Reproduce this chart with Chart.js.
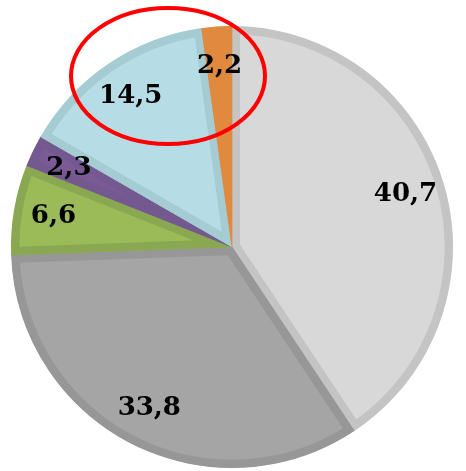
<!DOCTYPE html>
<html>
<head>
<meta charset="utf-8">
<script src="https://cdn.jsdelivr.net/npm/chart.js@4"></script>
<style>
  html, body { margin: 0; padding: 0; background: #fff; }
  canvas { display: block; }
</style>
</head>
<body>
<canvas id="pie" width="466" height="471"></canvas>
<script>
// slice values, clockwise from the top
var labels = ['A', 'B', 'C', 'D', 'E', 'F'];
var values = [40.7, 33.8, 6.6, 2.3, 14.5, 2.2];
var fills = ['#d8d8d8', '#a5a5a5', '#9bbb59', '#7b5b95', '#b6dde6', '#e2893e'];
var edges = ['#c4c4c4', '#979797', '#8aa852', '#745890', '#a5cbd3', '#e08a3f'];

// writes the numbers with a comma, as in the picture
var valueLabels = {
    id: 'valueLabels',
    afterDatasetsDraw: function (chart) {
        var ctx = chart.ctx;
        var arcs = chart.getDatasetMeta(0).data;
        ctx.save();
        ctx.font = 'bold 26px "DejaVu Serif"';
        ctx.fillStyle = '#000';
        ctx.textAlign = 'center';
        ctx.textBaseline = 'middle';
        arcs.forEach(function (arc, i) {
            var mid = (arc.startAngle + arc.endAngle) / 2;
            var r = arc.outerRadius * 0.82;
            var x = arc.x + Math.cos(mid) * r;
            var y = arc.y + Math.sin(mid) * r;
            ctx.fillText(String(values[i]).replace('.', ','), x, y);
        });
        ctx.restore();
    }
};

// red hand-drawn ellipse round the two small slices
var redRing = {
    id: 'redRing',
    afterDraw: function (chart) {
        var ctx = chart.ctx;
        ctx.save();
        ctx.strokeStyle = '#ff0000';
        ctx.lineWidth = 4;
        ctx.beginPath();
        ctx.ellipse(168, 76, 97, 68, 0, 0, Math.PI * 2);
        ctx.stroke();
        ctx.restore();
    }
};

var ctx1 = document.getElementById('pie').getContext('2d');
var pie = new Chart(ctx1, {
    type: 'pie',
    data: {
        labels: labels,
        datasets: [{
            data: values,
            backgroundColor: fills,
            borderColor: edges,
            borderWidth: 8,
            borderAlign: 'inner'
        }]
    },
    options: {
        responsive: false,
        animation: false,
        devicePixelRatio: 1,
        layout: { padding: { left: 11, right: 13, top: 26, bottom: 3 } },
        plugins: {
            legend: { display: false },
            tooltip: { enabled: false }
        }
    },
    plugins: [valueLabels, redRing]
});
</script>
</body>
</html>
